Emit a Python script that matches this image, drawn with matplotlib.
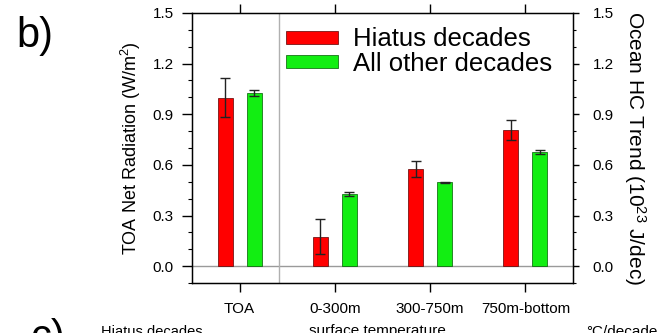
import numpy as np
import matplotlib
matplotlib.use("Agg")
import matplotlib.pyplot as plt
from matplotlib.patches import Patch
from matplotlib.ticker import MultipleLocator

plt.rcParams['font.family'] = ['Liberation Sans', 'DejaVu Sans']
plt.rcParams['mathtext.fontset'] = 'custom'
plt.rcParams['mathtext.rm'] = 'Liberation Sans'
plt.rcParams['mathtext.it'] = 'Liberation Sans:italic'

# ---- data ----
categories = ["TOA", "0-300m", "300-750m", "750m-bottom"]
hiatus = [0.998, 0.173, 0.577, 0.807]
hiatus_err = [0.117, 0.104, 0.048, 0.061]
other = [1.026, 0.427, 0.496, 0.676]
other_err = [0.020, 0.014, 0.004, 0.012]
series_labels = ["Hiatus decades", "All other decades"]
yticks = [0.0, 0.3, 0.6, 0.9, 1.2, 1.5]

RED = "#FF0000"
GREEN = "#12EE12"

fig = plt.figure(figsize=(6.62, 3.33), dpi=100)
ax = fig.add_axes([192/662, 1-283/333, (573-192)/662, (283-13)/333])

x = np.arange(1, len(categories) + 1)
off = 0.152
w = 0.158
ax.axhline(0, color="#9a9a9a", lw=1.0, zorder=1)
ax.axvline(1.41, color="#b0b0b0", lw=1.0, zorder=1)
ax.bar(x - off, hiatus, w, color=RED, edgecolor="#5a0000", linewidth=0.5, zorder=2)
ax.bar(x + off, other, w, color=GREEN, edgecolor="#005a00", linewidth=0.5, zorder=2)
ax.errorbar(x - off, hiatus, yerr=hiatus_err, fmt='none', ecolor='#222222',
            elinewidth=1.0, capsize=3.4, capthick=1.0, zorder=3)
ax.errorbar(x + off, other, yerr=other_err, fmt='none', ecolor='#222222',
            elinewidth=1.0, capsize=3.4, capthick=1.0, zorder=3)

ax.set_xlim(0.5, 4.5)
ax.set_ylim(-0.1, 1.5)
ax.set_xticks(x)
ax.set_xticklabels(categories, fontsize=11)
ax.set_yticks(yticks)
ax.set_yticklabels([f"{v:.1f}" for v in yticks], fontsize=11)
ax.yaxis.set_minor_locator(MultipleLocator(0.1))
ax.tick_params(axis='x', which='major', direction='out', length=6.5, width=1,
               top=True, pad=7)
ax.tick_params(axis='y', which='major', direction='out', length=7, width=1, pad=6)
ax.tick_params(axis='y', which='minor', direction='out', length=3, width=0.8)
for s in ax.spines.values():
    s.set_linewidth(1.0)
ax.set_ylabel("TOA Net Radiation (W/m$^2$)", fontsize=13, labelpad=7)

ax2 = ax.twinx()
ax2.set_ylim(-0.1, 1.5)
ax2.set_yticks(yticks)
ax2.set_yticklabels([f"{v:.1f}" for v in yticks], fontsize=11)
ax2.yaxis.set_minor_locator(MultipleLocator(0.1))
ax2.tick_params(axis='y', which='major', direction='out', length=4.5, width=1, pad=9.5)
ax2.tick_params(axis='y', which='minor', direction='out', length=2.5, width=0.8)
ax2.set_ylabel("Ocean HC Trend (10$^{23}$ J/dec)", fontsize=15, rotation=270,
               va='bottom', labelpad=6)

handles = [Patch(facecolor=RED, edgecolor="#5a0000", linewidth=0.5),
           Patch(facecolor=GREEN, edgecolor="#005a00", linewidth=0.5)]
ax.legend(handles, series_labels, loc='upper left', bbox_to_anchor=(0.247, 0.947),
          frameon=False, fontsize=18.5, borderpad=0, borderaxespad=0,
          handlelength=2.02, handleheight=0.39, handletextpad=0.58,
          labelspacing=0.03)

fig.text(16/662, 1-47/333, "b)", fontsize=30, va='baseline', ha='left',
         family=['Liberation Sans Narrow', 'Liberation Sans'])
fig.text(30/662, 1-349/333, "c)", fontsize=30, va='baseline', ha='left',
         family=['Liberation Sans Narrow', 'Liberation Sans'])
fig.text(101/662, 1-335.5/333, "Hiatus decades", fontsize=10.5, va='baseline')
fig.text(309/662, 1-335.5/333, "surface temperature", fontsize=11, va='baseline')
fig.text(586/662, 1-335.5/333, "\u00b0C/decade", fontsize=11, va='baseline')

fig.savefig("out.png", dpi=100)
